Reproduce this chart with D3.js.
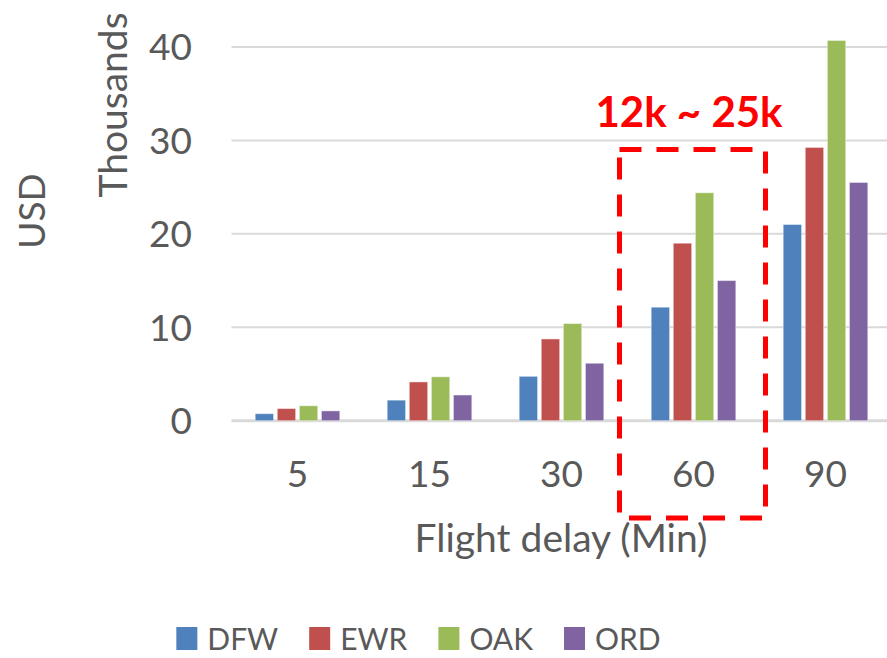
<!DOCTYPE html>
<html>
<head>
<meta charset="utf-8">
<script src="https://cdn.jsdelivr.net/npm/d3@7/dist/d3.min.js"></script>
<style>
  html, body { margin: 0; padding: 0; background: #fff; }
  svg { display: block; font-family: Lato, "Open Sans", sans-serif; }
</style>
</head>
<body>
<svg id="chart" width="887" height="658"></svg>
<script>
// Flight delay buckets (minutes) and airports
const delays = ["5", "15", "30", "60", "90"];
const airports = ["DFW", "EWR", "OAK", "ORD"];

// Cost per airport for each delay bucket, in thousands of USD
const dfw = [0.75, 2.2, 4.75, 12.15, 21.0];
const ewr = [1.3, 4.15, 8.75, 19.0, 29.25];
const oak = [1.6, 4.7, 10.4, 24.4, 40.7];
const ord = [1.05, 2.75, 6.15, 15.0, 25.5];

const yTicks = [0, 10, 20, 30, 40];
const highlightLabel = "12k ~ 25k";
const highlightDelay = "60";

const seriesValues = { DFW: dfw, EWR: ewr, OAK: oak, ORD: ord };
const colors = { DFW: "#4F81BD", EWR: "#C0504D", OAK: "#9BBB59", ORD: "#8064A2" };

const svg = d3.select("#chart");
const textColor = "#595959";

const x = d3.scaleBand().domain(delays).range([231.5, 891.5])
  .paddingInner(0.303).paddingOuter(0.1515);
const xi = d3.scaleBand().domain(airports).range([0, x.bandwidth()]).padding(0.167);
const y = d3.scaleLinear().domain([0, 40]).range([420.7, 47]);

// Horizontal gridlines
const grid = svg.append("g");
grid.selectAll("line").data(yTicks).join("line")
  .attr("x1", 231.5).attr("x2", 887)
  .attr("y1", d => y(d)).attr("y2", d => y(d))
  .attr("stroke", "#d9d9d9")
  .attr("stroke-width", d => d === 0 ? 3 : 2);

// Y axis labels
const yAxis = svg.append("g").attr("transform", "translate(192,0)")
  .call(d3.axisLeft(y).tickValues(yTicks).tickSize(0).tickPadding(0));
yAxis.select(".domain").remove();
yAxis.selectAll("text")
  .attr("fill", textColor).attr("font-size", 37).attr("font-family", "Lato, sans-serif")
  .attr("dy", "0.35em");

// X axis labels
const xAxis = svg.append("g").attr("transform", "translate(0,487)")
  .call(d3.axisBottom(x).tickSize(0).tickPadding(0));
xAxis.select(".domain").remove();
xAxis.selectAll("text")
  .attr("fill", textColor).attr("font-size", 37).attr("font-family", "Lato, sans-serif")
  .attr("dy", 0).attr("y", 0);

// Bars
const groups = svg.append("g").selectAll("g").data(delays).join("g")
  .attr("transform", d => `translate(${x(d)},0)`);
groups.selectAll("rect")
  .data((d, i) => airports.map(a => ({ airport: a, value: seriesValues[a][i] })))
  .join("rect")
  .attr("x", d => xi(d.airport))
  .attr("width", xi.bandwidth())
  .attr("y", d => y(d.value))
  .attr("height", d => y(0) - y(d.value))
  .attr("fill", d => colors[d.airport])
  .attr("stroke", "#ffffff").attr("stroke-opacity", 0.45).attr("stroke-width", 1);

// Axis titles
svg.append("text")
  .attr("x", 561).attr("y", 552).attr("text-anchor", "middle")
  .attr("fill", textColor).attr("font-size", 39)
  .text("Flight delay (Min)");

svg.append("text")
  .attr("transform", "translate(127,105) rotate(-90)")
  .attr("text-anchor", "middle").attr("fill", textColor).attr("font-size", 39)
  .text("Thousands");

svg.append("text")
  .attr("transform", "translate(45,211) rotate(-90)")
  .attr("text-anchor", "middle").attr("fill", textColor).attr("font-size", 37)
  .text("USD");

// Highlight box around the 60-minute group
const hx0 = x(highlightDelay) - 28;
const hx1 = x(highlightDelay) + x.bandwidth() + 26;
svg.append("rect")
  .attr("x", hx0).attr("y", 149.5)
  .attr("width", hx1 - hx0).attr("height", 518 - 149.5)
  .attr("fill", "none").attr("stroke", "#FF0000").attr("stroke-width", 5)
  .attr("stroke-dasharray", "22,15");

svg.append("text")
  .attr("x", 689).attr("y", 127).attr("text-anchor", "middle")
  .attr("fill", "#FF0000").attr("font-size", 42).attr("font-weight", "bold")
  .text(highlightLabel);

// Legend, centred under the plot
const legend = svg.append("g").attr("transform", "translate(0,627)");
const items = legend.selectAll("g").data(airports).join("g");
items.append("rect").attr("width", 21).attr("height", 23)
  .attr("fill", d => colors[d]);
items.append("text").attr("x", 31).attr("y", 23)
  .attr("fill", textColor).attr("font-size", 30)
  .text(d => d);
const widths = [];
items.each(function () {
  widths.push(31 + this.querySelector("text").getComputedTextLength());
});
const gap = 31;
const total = d3.sum(widths) + gap * (widths.length - 1);
let cursor = 418.5 - total / 2;
items.attr("transform", (d, i) => {
  const t = `translate(${cursor},0)`;
  cursor += widths[i] + gap;
  return t;
});
</script>
</body>
</html>
